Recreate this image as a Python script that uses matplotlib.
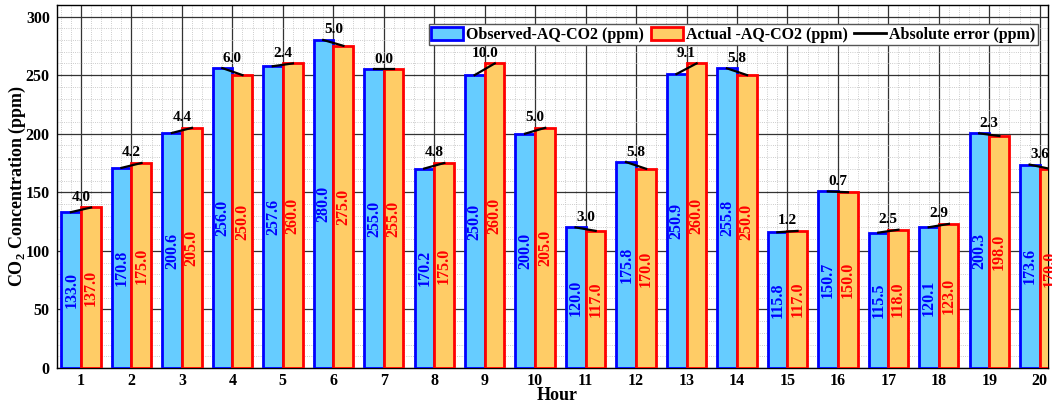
import matplotlib
matplotlib.use("Agg")
import matplotlib.pyplot as plt
import numpy as np
from matplotlib.ticker import MultipleLocator, AutoMinorLocator
from matplotlib.patches import Patch
from matplotlib.lines import Line2D

plt.rcParams['font.family'] = ['Liberation Serif', 'DejaVu Serif']
plt.rcParams['font.weight'] = 'bold'
plt.rcParams['mathtext.fontset'] = 'custom'
plt.rcParams['mathtext.rm'] = 'Liberation Serif:bold'
plt.rcParams['mathtext.bf'] = 'Liberation Serif:bold'

hours = list(range(1, 21))
observed = [133.0, 170.8, 200.6, 256.0, 257.6, 280.0, 255.0, 170.2, 250.0, 200.0,
            120.0, 175.8, 250.9, 255.8, 115.8, 150.7, 115.5, 120.1, 200.3, 173.6]
actual = [137.0, 175.0, 205.0, 250.0, 260.0, 275.0, 255.0, 175.0, 260.0, 205.0,
          117.0, 170.0, 260.0, 250.0, 117.0, 150.0, 118.0, 123.0, 198.0, 170.0]
abs_error = [4.0, 4.2, 4.4, 6.0, 2.4, 5.0, 0.0, 4.8, 10.0, 5.0,
             3.0, 5.8, 9.1, 5.8, 1.2, 0.7, 2.5, 2.9, 2.3, 3.6]

fig = plt.figure(figsize=(10.52, 4.03), dpi=100)
ax = fig.add_axes([0.054, 0.087, 0.942, 0.901])

x = np.array(hours, dtype=float)
w = 0.39
blue_fill = '#66CCFF'
orange_fill = '#FFCC66'

ax.set_axisbelow(True)
ax.bar(x - w / 2, observed, width=w, color=blue_fill, edgecolor='#0000FF', linewidth=2, zorder=3)
ax.bar(x + w / 2, actual, width=w, color=orange_fill, edgecolor='#FF0000', linewidth=2, zorder=3)

for xi, o, a, e in zip(x, observed, actual, abs_error):
    ax.plot([xi - 0.2, xi + 0.2], [o, a], color='black', linewidth=1.6, zorder=4)
    ax.text(xi - w / 2, o / 2, f'{o:.1f}', rotation=90, ha='center', va='center',
            color='#0000FF', fontsize=11.5, fontweight='bold', zorder=5)
    ax.text(xi + w / 2, a / 2, f'{a:.1f}', rotation=90, ha='center', va='center',
            color='#FF0000', fontsize=11.5, fontweight='bold', zorder=5)
    ax.text(xi, max(o, a) + 3, f'{e:.1f}', ha='center', va='bottom',
            color='black', fontsize=11, fontweight='bold', zorder=5)

ax.set_xlim(0.52, 20.16)
ax.set_ylim(0, 310)
ax.set_xticks(hours)
ax.set_xticklabels([str(h) for h in hours])
ax.yaxis.set_major_locator(MultipleLocator(50))
ax.xaxis.set_minor_locator(AutoMinorLocator(5))
ax.yaxis.set_minor_locator(AutoMinorLocator(5))
ax.grid(which='major', color='#333333', linewidth=0.9, linestyle='-')
ax.grid(which='minor', color='#BBBBBB', linewidth=0.6, linestyle=':')
ax.tick_params(which='both', length=0, labelsize=11.5)
ax.tick_params(axis='y', pad=5)
ax.tick_params(axis='x', pad=3.5)
for lbl in ax.get_xticklabels() + ax.get_yticklabels():
    lbl.set_fontweight('bold')

ax.set_xlabel('Hour', fontsize=13, fontweight='bold', va='center')
ax.xaxis.set_label_coords(0.505, -0.075)
ax.set_ylabel('CO$_\\mathbf{2}$ Concentration (ppm)', fontsize=13, fontweight='bold', va='center')
ax.yaxis.set_label_coords(-0.040, 0.5)

handles = [Patch(facecolor=blue_fill, edgecolor='#0000FF', linewidth=2, label='Observed-AQ-CO2 (ppm)'),
           Patch(facecolor=orange_fill, edgecolor='#FF0000', linewidth=2, label='Actual -AQ-CO2 (ppm)'),
           Line2D([0], [0], color='black', linewidth=2, label='Absolute error (ppm)')]
leg = ax.legend(handles=handles, loc='upper right', ncol=3, frameon=True,
                fancybox=False, edgecolor='#555555', framealpha=1, borderpad=0.15,
                handlelength=2.0, handleheight=0.9, handletextpad=0.2, columnspacing=0.4,
                bbox_to_anchor=(0.998, 0.968), prop={'weight': 'bold', 'size': 11.5})

for s in ax.spines.values():
    s.set_color('black')
    s.set_linewidth(1.0)

fig.savefig('out.png', dpi=100)
